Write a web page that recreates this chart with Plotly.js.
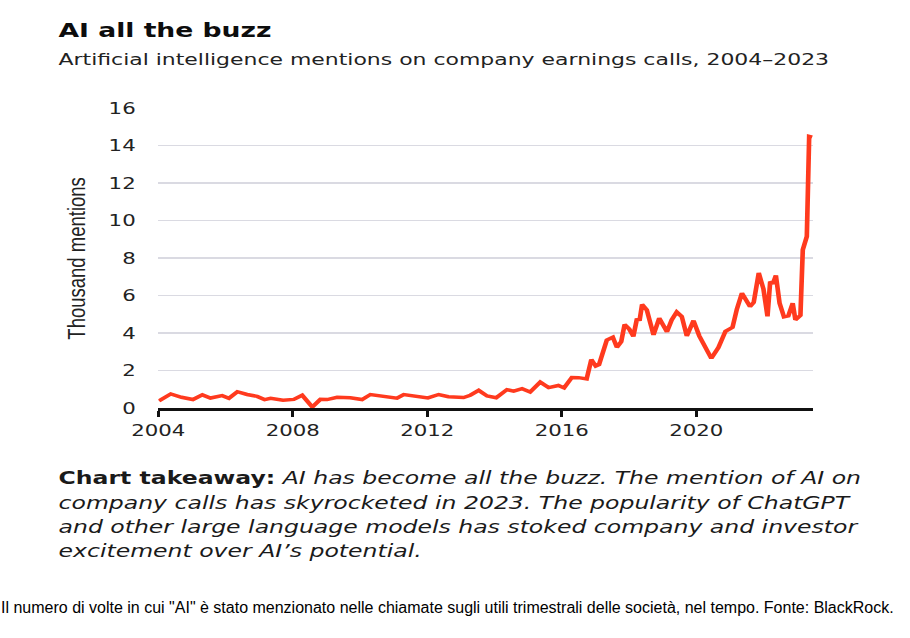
<!DOCTYPE html>
<html>
<head>
<meta charset="utf-8">
<script src="https://cdn.plot.ly/plotly-3.0.1.min.js"></script>
<style>
html,body{margin:0;padding:0;background:#fff;width:910px;height:638px;overflow:hidden;position:relative;}
#wrap{position:absolute;left:0;top:0;width:684px;height:638px;transform:scaleX(1.3304);transform-origin:0 0;}
#chart{width:684px;height:638px;}
#caption{position:absolute;left:1px;top:598px;height:20px;line-height:20px;white-space:nowrap;
  font-family:"Liberation Sans Narrow","Liberation Sans",sans-serif;font-size:16px;color:#000;}
</style>
</head>
<body>
<div id="wrap"><div id="chart"></div></div>
<div id="caption"></div>
<script>
// Decimal year of each reading
const years = [
  2004.02, 2004.37, 2004.69, 2005.03, 2005.31, 2005.55, 2005.90, 2006.10, 2006.35, 2006.64,
  2006.94, 2007.16, 2007.34, 2007.71, 2008.03, 2008.28, 2008.58, 2008.82, 2009.02, 2009.32,
  2009.71, 2010.06, 2010.31, 2010.70, 2011.10, 2011.30, 2011.65, 2012.02, 2012.34, 2012.63,
  2013.08, 2013.28, 2013.53, 2013.78, 2014.05, 2014.37, 2014.57, 2014.82, 2015.06, 2015.36,
  2015.61, 2015.90, 2016.07, 2016.30, 2016.50, 2016.74, 2016.88, 2017.01, 2017.11, 2017.34,
  2017.52, 2017.64, 2017.77, 2017.87, 2018.01, 2018.13, 2018.23, 2018.32, 2018.39, 2018.53,
  2018.73, 2018.90, 2019.13, 2019.27, 2019.42, 2019.57, 2019.72, 2019.92, 2020.09, 2020.26,
  2020.45, 2020.66, 2020.87, 2021.08, 2021.21, 2021.36, 2021.60, 2021.71, 2021.86, 2022.00,
  2022.12, 2022.20, 2022.28, 2022.37, 2022.48, 2022.61, 2022.74, 2022.87, 2022.95, 2023.10,
  2023.17, 2023.29, 2023.36, 2023.45
];
// Thousand mentions
const mentions = [
  0.38, 0.75, 0.57, 0.45, 0.70, 0.53, 0.66, 0.52, 0.87, 0.72,
  0.62, 0.45, 0.52, 0.41, 0.46, 0.68, 0.05, 0.46, 0.45, 0.57,
  0.55, 0.45, 0.72, 0.60, 0.52, 0.72, 0.65, 0.54, 0.72, 0.60,
  0.56, 0.68, 0.94, 0.64, 0.55, 0.98, 0.90, 1.03, 0.85, 1.38,
  1.09, 1.20, 1.07, 1.63, 1.62, 1.55, 2.58, 2.24, 2.32, 3.62,
  3.77, 3.24, 3.54, 4.45, 4.20, 3.82, 4.70, 4.72, 5.52, 5.23,
  3.90, 4.79, 4.07, 4.70, 5.12, 4.88, 3.84, 4.66, 3.85, 3.27,
  2.65, 3.22, 4.09, 4.30, 5.28, 6.12, 5.41, 5.63, 7.20, 6.35,
  4.89, 6.74, 6.63, 7.07, 5.59, 4.86, 4.91, 5.59, 4.70, 4.94,
  8.44, 9.15, 14.49, 14.45
];
const xTicks = [2004, 2008, 2012, 2016, 2020];
const yTicks = [0, 2, 4, 6, 8, 10, 12, 14, 16];

const titleText = "AI all the buzz";
const subtitleText = "Artificial intelligence mentions on company earnings calls, 2004–2023";
const yTitleText = "Thousand mentions";
const takeawayLines = [
  "<b>Chart takeaway:</b> <i>AI has become all the buzz. The mention of AI on</i>",
  "<i>company calls has skyrocketed in 2023. The popularity of ChatGPT</i>",
  "<i>and other large language models has stoked company and investor</i>",
  "<i>excitement over AI’s potential.</i>"
];
const captionText = "Il numero di volte in cui \"AI\" è stato menzionato nelle chiamate sugli utili trimestrali delle società, nel tempo. Fonte: BlackRock.";
document.getElementById('caption').textContent = captionText;

// chart is drawn 684 px wide and stretched to 910 px
const S = 910 / 684;
const W = 684, H = 638;
// plot area in final pixels: left 158, right 813, top 108, bottom 408
const L = 158, R = 813, T = 108, B = 408;
const px = x => (x - L) / (R - L);
const py = y => (B - y) / (B - T);

const FONT = '"DejaVu Sans", Verdana, sans-serif';
const annotations = [
  {text: titleText, x: px(56), y: py(30), xref: 'paper', yref: 'paper', xanchor: 'left', yanchor: 'middle', align: 'left', showarrow: false,
   font: {family: FONT, size: 20, color: '#0d0d0d', weight: 700}},
  {text: subtitleText, x: px(56), y: py(59), xref: 'paper', yref: 'paper', xanchor: 'left', yanchor: 'middle', align: 'left', showarrow: false,
   font: {family: FONT, size: 16.5, color: '#222'}},
  {text: yTitleText, x: px(75), y: py(258), xref: 'paper', yref: 'paper', xanchor: 'center', yanchor: 'middle', showarrow: false, textangle: -90,
   font: {family: '"Liberation Sans Narrow", "Liberation Sans", sans-serif', size: 18.5, color: '#222'}}
];
const lineY = [478, 503, 527, 551];
takeawayLines.forEach((t, i) => {
  annotations.push({text: t, x: px(56), y: py(lineY[i]), xref: 'paper', yref: 'paper', xanchor: 'left', yanchor: 'middle', align: 'left', showarrow: false,
    font: {family: FONT, size: 17.7, color: '#1a1a1a'}});
});

const trace = {
  x: years, y: mentions, type: 'scatter', mode: 'lines',
  line: {color: '#ff3a1e', width: 3.5, shape: 'linear'},
  hoverinfo: 'x+y'
};

const layout = {
  width: W, height: H,
  margin: {l: L / S, r: W - R / S, t: T, b: H - B, pad: 0},
  paper_bgcolor: '#fff', plot_bgcolor: '#fff',
  showlegend: false,
  xaxis: {
    range: [2004, 2023.47], tickvals: xTicks, ticktext: xTicks.map(String),
    showgrid: false, zeroline: false,
    showline: true, linecolor: '#111', linewidth: 2.5,
    ticks: 'outside', ticklen: 6, tickwidth: 2, tickcolor: '#111',
    tickfont: {family: FONT, size: 16, color: '#222'}
  },
  yaxis: {
    range: [0, 16], tickvals: yTicks, ticktext: yTicks.map(String),
    showgrid: true, gridcolor: '#dadae2', gridwidth: 1.5,
    zeroline: false, showline: false, ticks: '',
    ticklabelstandoff: 16,
    tickfont: {family: FONT, size: 16, color: '#222'}
  },
  annotations: annotations
};

Plotly.newPlot('chart', [trace], layout, {displayModeBar: false, staticPlot: true});
</script>
</body>
</html>
